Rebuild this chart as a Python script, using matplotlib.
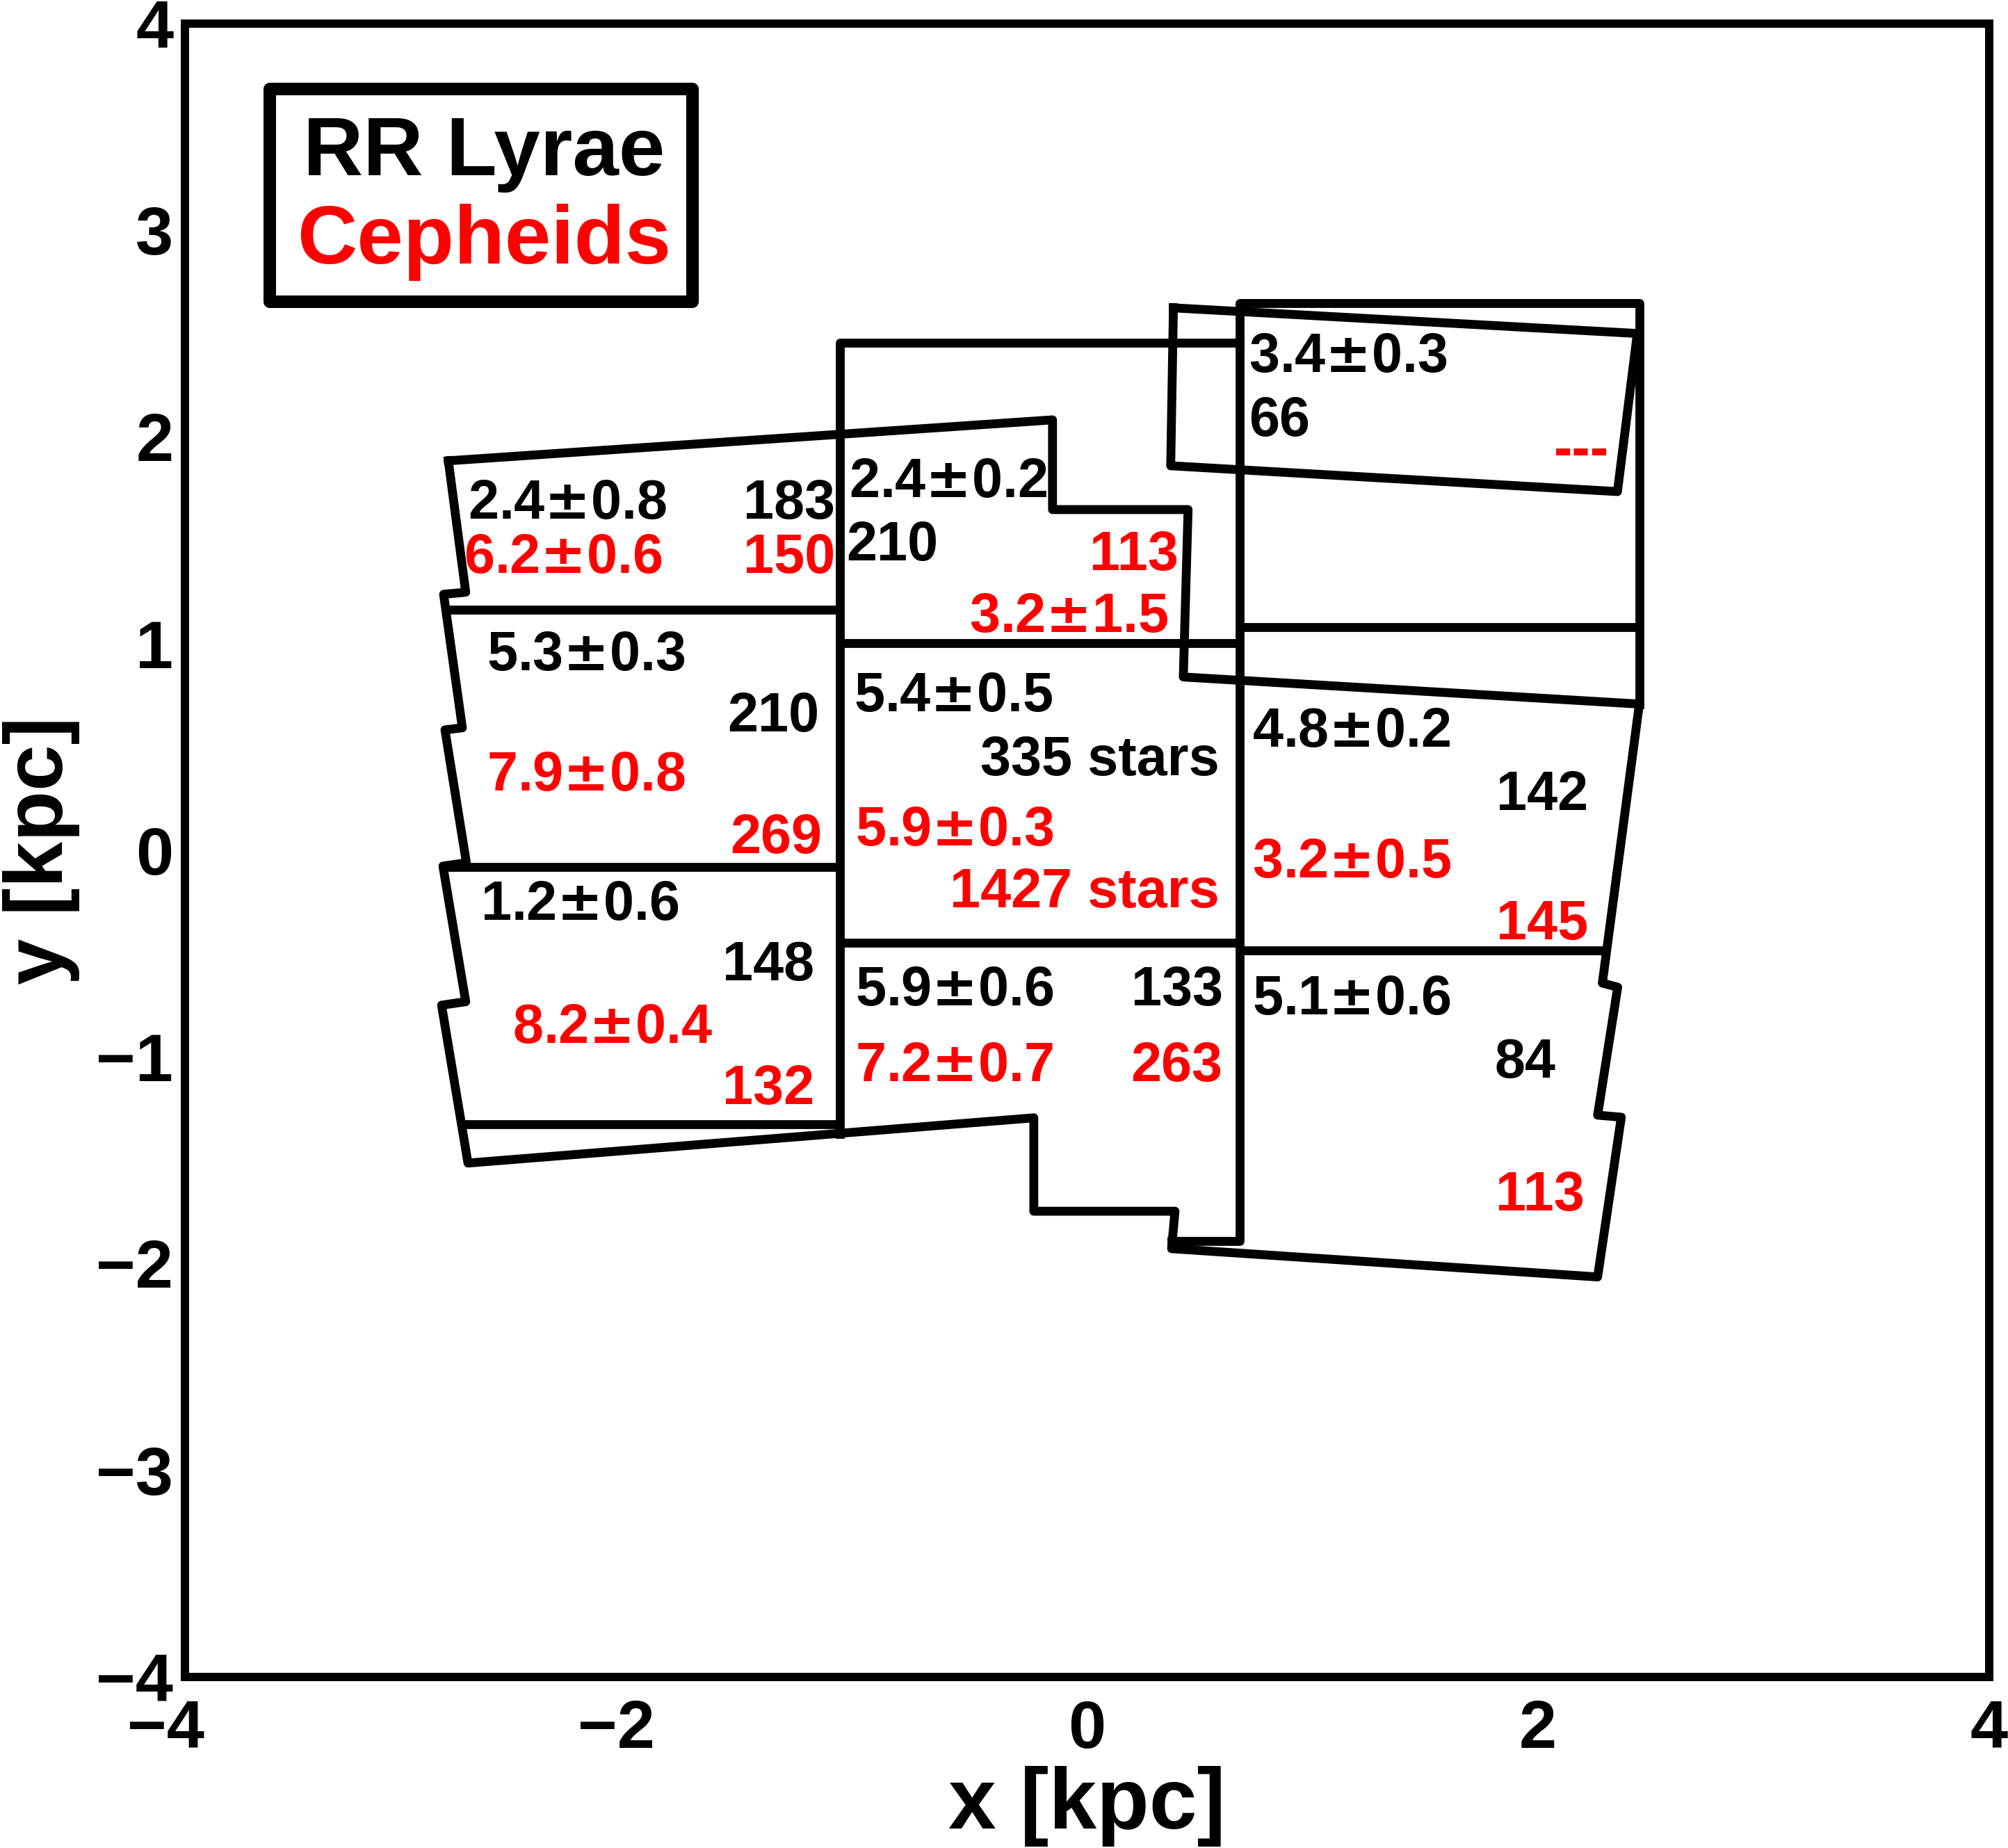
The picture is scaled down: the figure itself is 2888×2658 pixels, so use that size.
import matplotlib
matplotlib.use("Agg")
import matplotlib.pyplot as plt
from matplotlib.patches import Rectangle
from matplotlib.transforms import offset_copy, ScaledTranslation

# outer boundary of the surveyed fields (kpc)
outline_x = [-2.832, -0.153, -0.153, 0.448, 0.427, 2.449, 2.285, 2.353, 2.264, 2.369,
             2.264, 0.375, 0.390, -0.236, -0.236, -2.745, -2.862, -2.755, -2.856,
             -2.752, -2.847, -2.770, -2.853, -2.755, -2.832]
outline_y = [1.884, 2.082, 1.648, 1.648, 0.838, 0.707, -0.643, -0.663, -1.282, -1.292,
             -2.065, -1.928, -1.747, -1.747, -1.295, -1.514, -0.750, -0.733, -0.077,
             -0.061, 0.582, 0.592, 1.238, 1.248, 1.884]

# right column frame
right_x = [0.375, 0.678, 0.678, 2.449, 2.449]
right_y = [-1.890, -1.890, 2.647, 2.647, 0.707]

# upper right tile
tile_x = [0.383, 2.440, 2.352, 0.371, 0.383]
tile_y = [2.624, 2.500, 1.735, 1.860, 2.624]

# central column frame
center_x = [0.678, -1.095, -1.095]
center_y = [2.455, 2.455, -1.372]

# horizontal dividers between bins
div_y = [1.164, -0.081, -1.325, 1.003, -0.447, 1.080, -0.485]
div_x0 = [-2.843, -2.856, -2.776, -1.095, -1.095, 0.678, 0.678]
div_x1 = [-1.095, -1.095, -1.095, 0.678, 0.678, 2.449, 2.292]

PM = r"$\pm$"
# bin labels: text, x, y (centre of digits), colour, alignment
labels = [
    ("2.4" + PM + "0.8", -2.746, 1.698, "k", "left"),
    ("183", -1.117, 1.698, "k", "right"),
    ("6.2" + PM + "0.6", -2.764, 1.437, "r", "left"),
    ("150", -1.117, 1.437, "r", "right"),
    ("5.3" + PM + "0.3", -2.662, 0.967, "k", "left"),
    ("210", -1.186, 0.669, "k", "right"),
    ("7.9" + PM + "0.8", -2.662, 0.384, "r", "left"),
    ("269", -1.175, 0.080, "r", "right"),
    ("1.2" + PM + "0.6", -2.690, -0.242, "k", "left"),
    ("148", -1.209, -0.533, "k", "right"),
    ("8.2" + PM + "0.4", -2.549, -0.836, "r", "left"),
    ("132", -1.209, -1.134, "r", "right"),
    ("2.4" + PM + "0.2", -1.056, 1.803, "k", "left"),
    ("210", -1.067, 1.499, "k", "left"),
    ("113", 0.405, 1.450, "r", "right"),
    ("3.2" + PM + "1.5", 0.359, 1.152, "r", "right"),
    ("5.4" + PM + "0.5", -1.033, 0.768, "k", "left"),
    ("335 stars", 0.586, 0.458, "k", "right"),
    ("5.9" + PM + "0.3", -1.027, 0.118, "r", "left"),
    ("1427 stars", 0.586, -0.180, "r", "right"),
    ("5.9" + PM + "0.6", -1.027, -0.657, "k", "left"),
    ("133", 0.602, -0.657, "k", "right"),
    ("7.2" + PM + "0.7", -1.027, -1.022, "r", "left"),
    ("263", 0.602, -1.022, "r", "right"),
    ("3.4" + PM + "0.3", 0.716, 2.410, "k", "left"),
    ("66", 0.716, 2.100, "k", "left"),
    ("---", 2.313, 1.952, "r", "right"),
    ("4.8" + PM + "0.2", 0.734, 0.595, "k", "left"),
    ("142", 2.221, 0.291, "k", "right"),
    ("3.2" + PM + "0.5", 0.734, -0.037, "r", "left"),
    ("145", 2.221, -0.335, "r", "right"),
    ("5.1" + PM + "0.6", 0.734, -0.700, "k", "left"),
    ("84", 2.079, -1.004, "k", "right"),
    ("113", 2.205, -1.648, "r", "right"),
]

xticks = [-4, -2, 0, 2, 4]
xtick_labels = ["\u22124", "\u22122", "0", "2", "4"]
yticks = [-4, -3, -2, -1, 0, 1, 2, 3, 4]
ytick_labels = ["\u22124", "\u22123", "\u22122", "\u22121", "0", "1", "2", "3", "4"]

plt.rcParams["font.family"] = ["Liberation Sans", "DejaVu Sans"]
plt.rcParams["font.weight"] = "bold"
plt.rcParams["mathtext.fontset"] = "dejavusans"

fig = plt.figure(figsize=(28.88, 26.58), dpi=100)
ax = fig.add_axes([0.0921, 0.0926, 0.8985, 0.8947])

lw = 9.2
red = "#ff0000"
ax.plot(outline_x, outline_y, color="k", lw=lw)
ax.plot(right_x, right_y, color="k", lw=lw)
ax.plot(tile_x, tile_y, color="k", lw=lw)
ax.plot(center_x, center_y, color="k", lw=lw)
for y, x0, x1 in zip(div_y, div_x0, div_x1):
    ax.plot([x0, x1], [y, y], color="k", lw=lw, solid_capstyle="butt")

# shift baseline down by half the digit height so y marks the digit centre
fs = 57
trans = offset_copy(ax.transData, fig=fig, y=-0.716 * fs / 2, units="points")
for txt, x, y, c, ha in labels:
    ax.text(x, y, txt, color=red if c == "r" else "k", ha=ha, va="baseline",
            fontsize=fs, fontweight="bold", transform=trans)

# legend-like box
ax.add_patch(Rectangle((-3.624, 2.654), 1.874, 1.030, facecolor="white",
                       edgecolor="k", lw=13, joinstyle="round", zorder=3))
fs_leg = 86
trans_leg = offset_copy(ax.transData, fig=fig, y=-0.716 * fs_leg / 2, units="points")
ax.text(-2.674, 3.408, "RR Lyrae", color="k", ha="center", va="baseline",
        fontsize=fs_leg, fontweight="bold", transform=trans_leg, zorder=4)
ax.text(-2.674, 2.984, "Cepheids", color=red, ha="center", va="baseline",
        fontsize=fs_leg, fontweight="bold", transform=trans_leg, zorder=4)

ax.set_xlim(-4, 4)
ax.set_ylim(-4, 4)
ax.set_xticks(xticks)
ax.set_xticklabels(xtick_labels)
ax.set_yticks(yticks)
ax.set_yticklabels(ytick_labels)
ax.tick_params(axis="both", labelsize=70, length=0, width=8.6)
ax.tick_params(axis="x", pad=23)
ax.tick_params(axis="y", pad=12)
for sp in ax.spines.values():
    sp.set_linewidth(8.6)

# negative x labels: keep the digit (not the whole string) under the tick
shift = ScaledTranslation(-0.28, 0, fig.dpi_scale_trans)
for val, tick in zip(xticks, ax.xaxis.get_major_ticks()):
    if val < 0:
        tick.label1.set_transform(tick.label1.get_transform() + shift)

ax.set_xlabel("x [kpc]", fontsize=89, fontweight="bold")
ax.set_ylabel("y [kpc]", fontsize=86, fontweight="bold")
ax.xaxis.set_label_coords(0.5, -0.054)
ax.yaxis.set_label_coords(-0.058, 0.5)

fig.savefig("out.png", dpi=100, facecolor="white")
